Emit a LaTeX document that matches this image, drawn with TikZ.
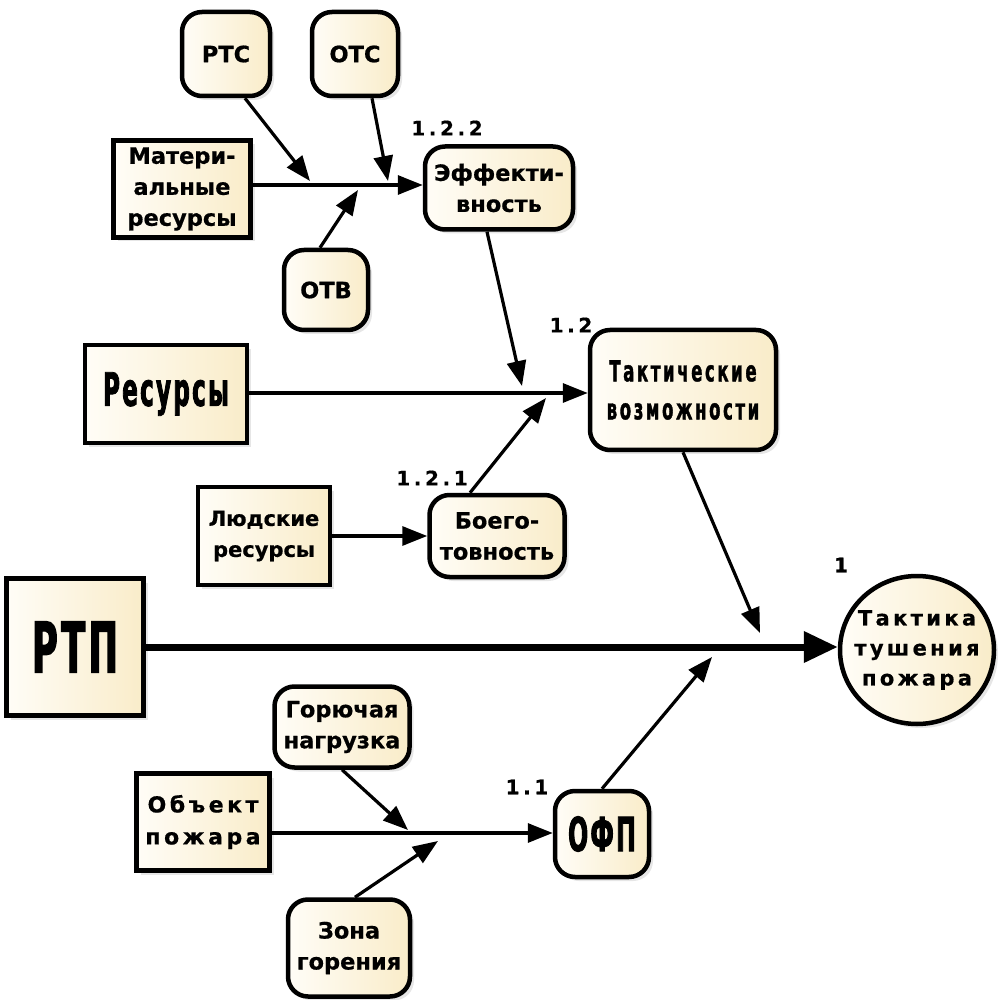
\documentclass[tikz,border=0pt]{standalone}
\usepackage{fontspec}
\setmainfont{DejaVu Sans}
\newfontfamily\vb[FakeBold=0.6]{DejaVu Sans Bold}
\newfontfamily\cnd[FakeStretch=0.5,LetterSpace=5,FakeBold=1.8]{DejaVu Sans Bold}
\newfontfamily\spc[LetterSpace=16,FakeBold=0.6]{DejaVu Sans Bold}
\newfontfamily\numf[LetterSpace=18,FakeBold=0.6]{DejaVu Sans Bold}
\newfontfamily\cndspc[FakeStretch=0.57,LetterSpace=9,FakeBold=1.2]{DejaVu Sans Bold}
\usetikzlibrary{arrows.meta,shadows,shapes.geometric}
\definecolor{cremeL}{HTML}{FFFDF7}
\definecolor{cremeR}{HTML}{F9ECC9}
\tikzset{
  box/.style={draw=black, line width=4.5pt, left color=cremeL, right color=cremeR,
    drop shadow={shadow xshift=4pt, shadow yshift=-4pt, opacity=0.2},
    inner sep=0pt, align=center, text=black},
  rbox/.style={box, rounded corners=20pt},
  arr/.style={line width=3.2pt, -{Triangle[length=25pt,width=19pt]}},
  bigarr/.style={line width=7pt, -{Triangle[length=34pt,width=30pt]}},
  num/.style={font=\numf\fontsize{20}{22}\selectfont},
  txt/.style={font=\vb\fontsize{22.5}{31}\selectfont},
}
\begin{document}
\begin{tikzpicture}[x=1pt,y=-1pt]
\useasboundingbox (0,0) rectangle (1005,1000);

% top group
\node[rbox, txt, minimum width=88, minimum height=84] (rtc) at (226,54) {РТС};
\node[rbox, txt, minimum width=86, minimum height=84] (otc) at (355,54) {ОТС};
\node[box, txt, minimum width=137, minimum height=97] (mat) at (182,189) {Матери-\\альные\\ресурсы};
\node[rbox, txt, minimum width=148, minimum height=83] (eff) at (499,188) {Эффекти-\\вность};
\node[rbox, txt, minimum width=84, minimum height=80] (otv) at (326,290) {ОТВ};
\node[num] (n122) at (447,128) {1.2.2};

\coordinate (j1) at (310,181);
\coordinate (j2) at (388,181);
\coordinate (j3) at (358,190);
\draw[arr] (mat.east |- 0,185) -- (eff.west |- 0,185);
\draw[arr] (rtc.south -| 245,0) -- (j1);
\draw[arr] (otc.south -| 372,0) -- (j2);
\draw[arr] (otv.north -| 320,0) -- (j3);

% middle group
\node[box, font=\cnd\fontsize{46}{52}\selectfont, minimum width=162, minimum height=98] (res) at (166,394) {Ресурсы};
\node[rbox, font=\cndspc\fontsize{29}{38}\selectfont, minimum width=186, minimum height=120] (tak) at (683,390) {Тактические\\возможности};
\node[num] (n12) at (571,325) {1.2};
\node[box, font=\vb\fontsize{21}{31}\selectfont, minimum width=132, minimum height=98] (lud) at (264,536) {Людские\\ресурсы};
\node[rbox, txt, minimum width=135, minimum height=82] (boe) at (497,536) {Боего-\\товность};
\node[num] (n121) at (432,478) {1.2.1};

\coordinate (j4) at (522,386);
\coordinate (j5) at (546,398);
\draw[arr] (res.east |- 0,393) -- (tak.west |- 0,393);
\draw[arr] (eff.south -| 487,0) -- (j4);
\draw[arr] (boe.north -| 470,0) -- (j5);
\draw[arr] (lud.east) -- (boe.west);

% main line
\node[box, font=\cnd\fontsize{70}{80}\selectfont, minimum width=137, minimum height=137] (rtp) at (75,647) {РТП};
\node[box, ellipse, minimum width=154, minimum height=148] (tt) at (917,650) {};
\node[font=\spc\fontsize{21}{30}\selectfont, align=center, inner sep=0pt] (ttt) at (tt.center) {Тактика\\тушения\\пожара};
\node[num] (n1) at (841,565) {1};
\coordinate (j6) at (760,633);
\coordinate (j7) at (712,657);
\draw[bigarr] (rtp.east |- 0,647) -- (tt.west |- 0,647);
\draw[arr] (tak.south) -- (j6);

% bottom group
\node[rbox, txt, minimum width=135, minimum height=81] (gor) at (342,727) {Горючая\\нагрузка};
\node[box, font=\spc\fontsize{22}{32}\selectfont, minimum width=133, minimum height=97] (obj) at (203,822) {Объект\\пожара};
\node[rbox, font=\cnd\fontsize{47}{50}\selectfont, minimum width=94, minimum height=86] (ofp) at (602,834) {ОФП};
\node[rbox, txt, minimum width=122, minimum height=97] (zon) at (349,948) {Зона\\горения};
\node[num] (n11) at (527,787) {1.1};
\coordinate (j8) at (408,830);
\coordinate (j9) at (438,841);
\draw[arr] (ofp.north) -- (j7);
\draw[arr] (obj.east |- 0,833) -- (ofp.west |- 0,833);
\draw[arr] (gor.south) -- (j8);
\draw[arr] (zon.north -| 355,0) -- (j9);
\end{tikzpicture}
\end{document}
